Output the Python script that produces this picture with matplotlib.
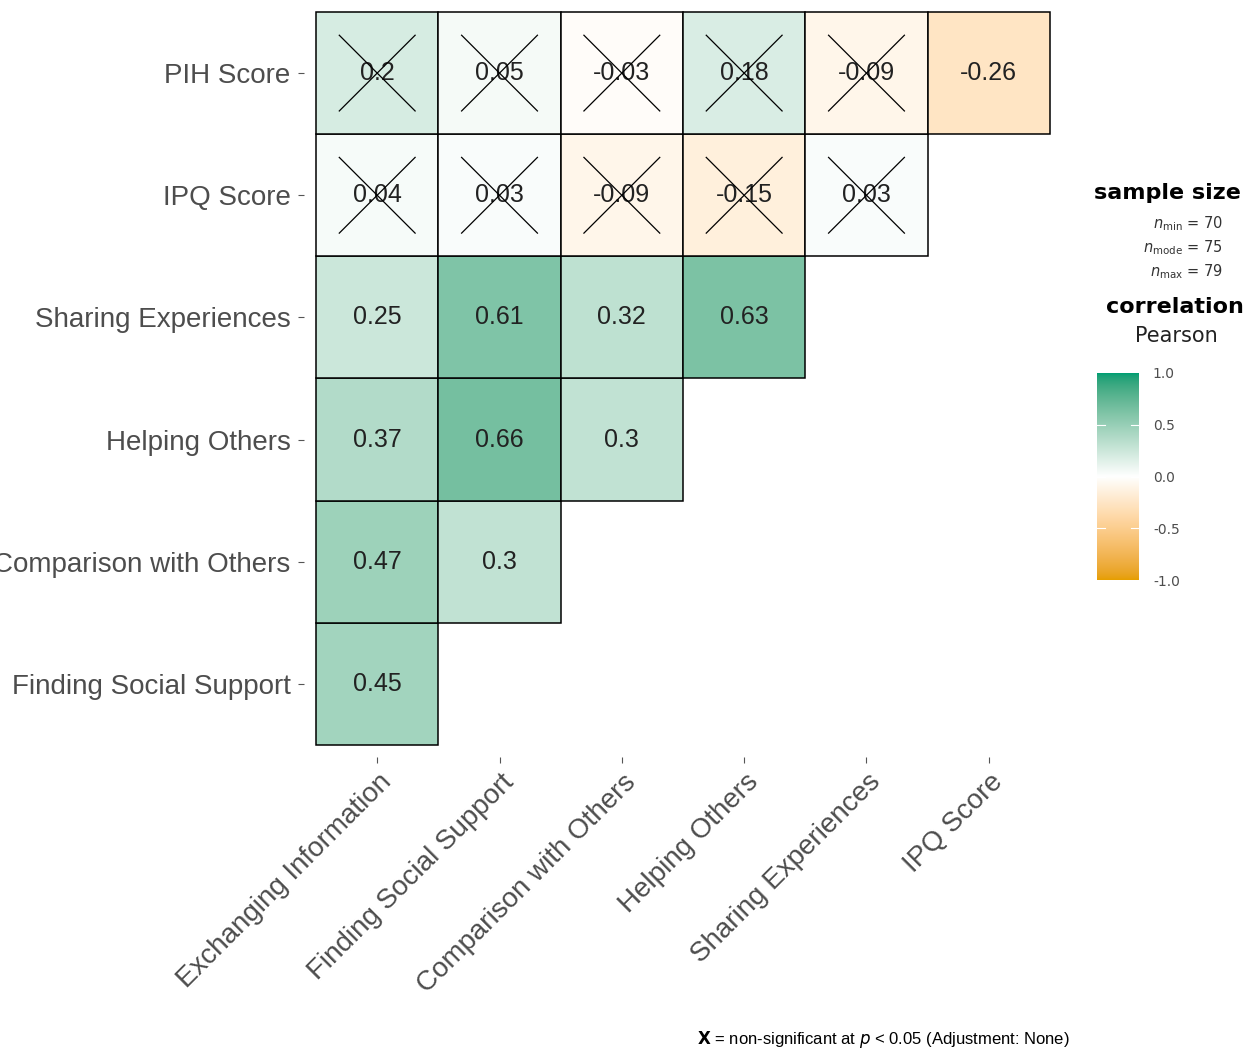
import numpy as np
import matplotlib
matplotlib.use("Agg")
import matplotlib.pyplot as plt
import matplotlib.transforms as mtransforms
from matplotlib.colors import ListedColormap, to_rgb
from matplotlib.patches import Rectangle

plt.rcParams['font.family'] = ['Liberation Sans', 'DejaVu Sans']

col_labels = ["Exchanging Information", "Finding Social Support", "Comparison with Others",
              "Helping Others", "Sharing Experiences", "IPQ Score"]
row_labels = ["Finding Social Support", "Comparison with Others", "Helping Others",
              "Sharing Experiences", "IPQ Score", "PIH Score"]  # bottom to top

finding_vals = [0.45]
comparison_vals = [0.47, 0.3]
helping_vals = [0.37, 0.66, 0.3]
sharing_vals = [0.25, 0.61, 0.32, 0.63]
ipq_vals = [0.04, 0.03, -0.09, -0.15, 0.03]
pih_vals = [0.2, 0.05, -0.03, 0.18, -0.09, -0.26]

finding_ns = [False]
comparison_ns = [False, False]
helping_ns = [False, False, False]
sharing_ns = [False, False, False, False]
ipq_ns = [True, True, True, True, True]
pih_ns = [True, True, True, True, True, False]

rows_vals = [finding_vals, comparison_vals, helping_vals, sharing_vals, ipq_vals, pih_vals]
rows_ns = [finding_ns, comparison_ns, helping_ns, sharing_ns, ipq_ns, pih_ns]

n_min, n_mode, n_max = 70, 75, 79
cbar_ticks = [1.0, 0.5, 0.0, -0.5, -1.0]
grad_colors = ["#E69F00", "#FFFFFF", "#009E73"]


# ---- Lab-space diverging gradient (like ggplot's scale_fill_gradient2) ----
def srgb_to_lab(rgb):
    rgb = np.asarray(rgb, float)
    lin = np.where(rgb <= 0.04045, rgb / 12.92, ((rgb + 0.055) / 1.055) ** 2.4)
    M = np.array([[0.4124, 0.3576, 0.1805],
                  [0.2126, 0.7152, 0.0722],
                  [0.0193, 0.1192, 0.9505]])
    xyz = M @ lin
    white = np.array([0.95047, 1.0, 1.08883])
    t = xyz / white
    f = np.where(t > (6 / 29) ** 3, np.cbrt(t), t / (3 * (6 / 29) ** 2) + 4 / 29)
    return np.array([116 * f[1] - 16, 500 * (f[0] - f[1]), 200 * (f[1] - f[2])])


def lab_to_srgb(lab):
    L, a, b = lab
    fy_ = (L + 16) / 116
    fx_ = fy_ + a / 500
    fz_ = fy_ - b / 200
    f = np.array([fx_, fy_, fz_])
    t = np.where(f > 6 / 29, f ** 3, 3 * (6 / 29) ** 2 * (f - 4 / 29))
    white = np.array([0.95047, 1.0, 1.08883])
    xyz = t * white
    Minv = np.array([[3.2406, -1.5372, -0.4986],
                     [-0.9689, 1.8758, 0.0415],
                     [0.0557, -0.2040, 1.0570]])
    lin = Minv @ xyz
    lin = np.clip(lin, 0, 1)
    rgb = np.where(lin <= 0.0031308, 12.92 * lin, 1.055 * lin ** (1 / 2.4) - 0.055)
    return np.clip(rgb, 0, 1)


labs = [srgb_to_lab(to_rgb(c)) for c in grad_colors]
cols = []
for s in np.linspace(-1, 1, 256):
    if s < 0:
        w = s + 1
        lab = labs[0] * (1 - w) + labs[1] * w
    else:
        lab = labs[1] * (1 - s) + labs[2] * s
    cols.append(lab_to_srgb(lab))
cmap = ListedColormap(cols)

W, H = 1257, 1056
fig = plt.figure(figsize=(W / 100, H / 100), dpi=100)


def fx(px):
    return px / W


def fy(py):
    return 1 - py / H


# panel: tiles span 316..1050 x 12..745 px, panel expanded by 0.1 cell
ax = fig.add_axes([fx(303.8), fy(757.2), fx(1062.2) - fx(303.8), fy(-0.2) - fy(757.2)])
ax.set_xlim(-0.6, 5.6)
ax.set_ylim(-0.6, 5.6)

for r, (vals, nss) in enumerate(zip(rows_vals, rows_ns)):
    for c, (v, ns) in enumerate(zip(vals, nss)):
        ax.add_patch(Rectangle((c - 0.5, r - 0.5), 1, 1, facecolor=cmap((v + 1) / 2),
                               edgecolor="black", linewidth=1.1, zorder=2))
        ax.text(c, r, f"{v:g}", ha="center", va="center", fontsize=18,
                color="#222222", zorder=3)
        if ns:
            d = 0.31
            ax.plot([c - d, c + d], [r - d, r + d], color="black", lw=0.9, zorder=4)
            ax.plot([c - d, c + d], [r + d, r - d], color="black", lw=0.9, zorder=4)

ax.set_xticks(range(6))
ax.set_xticklabels(col_labels, rotation=45, ha="right", va="top", rotation_mode="anchor",
                   fontsize=20, color="#4D4D4D")
ax.set_yticks(range(6))
ax.set_yticklabels(row_labels, fontsize=20, color="#4D4D4D")
ax.tick_params(axis="both", length=4.5, width=0.8, color="#555555")
ax.tick_params(axis="y", pad=5)
ax.tick_params(axis="x", pad=4)
offset = mtransforms.ScaledTranslation(1 / 72, 0 / 72, fig.dpi_scale_trans)
for lab in ax.get_xticklabels():
    lab.set_transform(lab.get_transform() + offset)
for s in ax.spines.values():
    s.set_visible(False)

# sample size legend
leg_font = ['DejaVu Sans']
fig.text(fx(1094), fy(193), "sample size", fontsize=16, fontweight="bold",
         ha="left", va="center", color="black", family=leg_font)
for py, lab, n in [(224, "min", n_min), (248, "mode", n_mode), (272, "max", n_max)]:
    fig.text(fx(1223), fy(py), rf"$\mathit{{n}}_{{\mathrm{{{lab}}}}}$ = {n}", fontsize=10.5,
             ha="right", va="center", color="#333333", family=leg_font)

fig.text(fx(1106), fy(307), "correlation", fontsize=16, fontweight="bold",
         ha="left", va="center", color="black", family=leg_font)
fig.text(fx(1176), fy(336), "Pearson", fontsize=15, ha="center", va="center",
         color="#222222", family=leg_font)

cax = fig.add_axes([fx(1097), fy(580), fx(1139) - fx(1097), fy(373) - fy(580)])
grad = np.linspace(-1, 1, 256).reshape(-1, 1)
cax.imshow(grad, cmap=cmap, aspect="auto", origin="lower", extent=[0, 1, -1, 1],
           vmin=-1, vmax=1)
cax.set_xlim(0, 1)
cax.set_ylim(-1.0, 1.0)
for t in cbar_ticks[1:-1]:
    cax.plot([0, 0.2], [t, t], color="white", lw=0.8)
    cax.plot([0.8, 1], [t, t], color="white", lw=0.8)
cax.set_xticks([])
cax.yaxis.tick_right()
cax.set_yticks(cbar_ticks)
cax.set_yticklabels([f"{t:.1f}" for t in cbar_ticks], fontsize=10, color="#4D4D4D",
                    family=leg_font)
cax.tick_params(axis="y", length=0, pad=10)
for s in cax.spines.values():
    s.set_visible(False)

fig.text(fx(1070), fy(1040),
         r"$\mathbf{X}$ = non-significant at $\mathit{p}$ < 0.05 (Adjustment: None)",
         fontsize=12, ha="right", va="center", color="black")

fig.savefig("out.png", dpi=100, facecolor="white")
